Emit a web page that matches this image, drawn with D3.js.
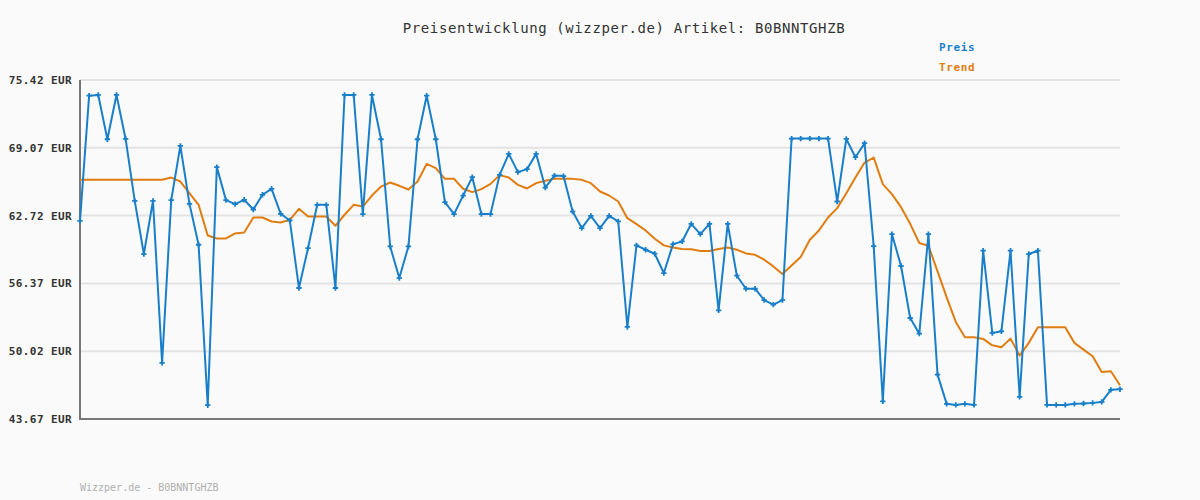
<!DOCTYPE html>
<html>
<head>
<meta charset="utf-8">
<script src="https://cdn.jsdelivr.net/npm/d3@7"></script>
<style>
  html, body { margin: 0; padding: 0; background: #fafafa; }
  svg { display: block; }
  text { font-family: "DejaVu Sans Mono", "Liberation Mono", monospace; }
</style>
</head>
<body>
<svg id="chart" width="1200" height="500"></svg>
<script>
const titleText = "Preisentwicklung (wizzper.de) Artikel: B0BNNTGHZB";
const footerText = "Wizzper.de - B0BNNTGHZB";
const seriesNames = ["Preis", "Trend"];
const tickValues = [43.67, 50.02, 56.37, 62.72, 69.07, 75.42];
const tickLabels = ["43.67 EUR", "50.02 EUR", "56.37 EUR", "62.72 EUR", "69.07 EUR", "75.42 EUR"];

const prices = [
  62.23, 73.95, 74.02, 69.87, 74.02, 69.90, 64.10, 59.12, 64.10, 48.93,
  64.17, 69.25, 63.82, 59.99, 44.96, 67.26, 64.17, 63.80, 64.20, 63.29,
  64.67, 65.23, 62.89, 62.26, 55.94, 59.68, 63.73, 63.73, 55.94, 74.02,
  74.02, 62.86, 74.02, 69.87, 59.83, 56.87, 59.83, 69.87, 73.95, 69.87,
  63.98, 62.86, 64.60, 66.32, 62.86, 62.86, 66.54, 68.50, 66.79, 67.07,
  68.50, 65.35, 66.47, 66.42, 63.10, 61.55, 62.70, 61.55, 62.70, 62.17,
  52.29, 59.93, 59.52, 59.15, 57.34, 60.05, 60.30, 61.95, 60.99, 61.95,
  53.85, 61.95, 57.09, 55.87, 55.87, 54.81, 54.38, 54.81, 69.93, 69.93,
  69.93, 69.93, 69.93, 64.04, 69.90, 68.19, 69.50, 59.86, 45.33, 60.99,
  58.00, 53.13, 51.66, 60.99, 47.83, 45.09, 44.99, 45.09, 44.99, 59.43,
  51.73, 51.88, 59.43, 45.74, 59.12, 59.43, 44.99, 44.99, 44.99, 45.09,
  45.12, 45.18, 45.27, 46.40, 46.46
];

const trend = [
  66.07, 66.07, 66.07, 66.07, 66.07, 66.07, 66.07, 66.07, 66.07, 66.07,
  66.28, 65.91, 64.82, 63.73, 60.86, 60.58, 60.58, 61.05, 61.14, 62.54,
  62.54, 62.17, 62.08, 62.33, 63.36, 62.64, 62.64, 62.64, 61.77, 62.80,
  63.73, 63.57, 64.60, 65.44, 65.82, 65.51, 65.16, 65.91, 67.56, 67.16,
  66.16, 66.16, 65.23, 64.92, 65.20, 65.69, 66.51, 66.28, 65.60, 65.26,
  65.76, 65.98, 66.16, 66.16, 66.16, 66.07, 65.76, 64.98, 64.60, 64.04,
  62.48, 61.92, 61.33, 60.55, 59.93, 59.74, 59.59, 59.56, 59.40, 59.40,
  59.59, 59.74, 59.52, 59.18, 59.05, 58.59, 57.96, 57.25, 58.05, 58.84,
  60.46, 61.33, 62.54, 63.42, 64.82, 66.28, 67.69, 68.16, 65.67, 64.73,
  63.51, 61.95, 60.15, 59.90, 57.49, 55.06, 52.76, 51.32, 51.32, 51.17,
  50.57, 50.39, 51.20, 49.61, 50.80, 52.26, 52.26, 52.26, 52.26, 50.80,
  50.17, 49.55, 48.08, 48.14, 46.83
];

const colors = { price: "#1a7fc9", trend: "#e07d10", grid: "#e3e3e3", axis: "#777777" };

const svg = d3.select("#chart");
svg.append("rect").attr("width", 1200).attr("height", 500).attr("fill", "#fafafa");

const mLeft = 80, mRight = 1120, mTop = 80, mBottom = 419;

const x = d3.scaleLinear().domain([0, prices.length - 1]).range([mLeft, mRight]);
const y = d3.scaleLinear().domain([43.67, 75.42]).range([mBottom, mTop]);

// gridlines
svg.append("g")
  .selectAll("line")
  .data(tickValues)
  .join("line")
  .attr("x1", mLeft).attr("x2", mRight)
  .attr("y1", d => y(d)).attr("y2", d => y(d))
  .attr("stroke", colors.grid).attr("stroke-width", 2);

// y axis labels
const yAxis = d3.axisLeft(y)
  .tickValues(tickValues)
  .tickSize(0)
  .tickPadding(8)
  .tickFormat((d, i) => tickLabels[i]);
const gy = svg.append("g").attr("transform", `translate(${mLeft},0)`).call(yAxis);
gy.select(".domain").remove();
gy.selectAll("text")
  .attr("font-family", "'DejaVu Sans Mono', monospace")
  .attr("font-size", 11)
  .attr("font-weight", "bold")
  .attr("letter-spacing", "0.4px")
  .attr("fill", "#333");

// axes lines
svg.append("line").attr("x1", mLeft).attr("x2", mLeft).attr("y1", mTop).attr("y2", mBottom + 1)
  .attr("stroke", colors.axis).attr("stroke-width", 2);
svg.append("line").attr("x1", mLeft - 1).attr("x2", mRight).attr("y1", mBottom).attr("y2", mBottom)
  .attr("stroke", colors.axis).attr("stroke-width", 2);

// trend line
const line = d3.line().x((d, i) => x(i)).y(d => y(d));
svg.append("path")
  .datum(trend)
  .attr("d", line)
  .attr("fill", "none")
  .attr("stroke", colors.trend)
  .attr("stroke-width", 2)
  .attr("stroke-linejoin", "round");

// price line
svg.append("path")
  .datum(prices)
  .attr("d", line)
  .attr("fill", "none")
  .attr("stroke", colors.price)
  .attr("stroke-width", 2)
  .attr("stroke-linejoin", "round");

// price markers
svg.append("g")
  .selectAll("path")
  .data(prices)
  .join("path")
  .attr("transform", (d, i) => `translate(${x(i)},${y(d)})`)
  .attr("d", d3.symbol(d3.symbolCross, 16))
  .attr("fill", colors.price);

// title
svg.append("text")
  .attr("x", 624).attr("y", 33)
  .attr("text-anchor", "middle")
  .attr("font-size", 14)
  .attr("letter-spacing", "0.6px")
  .attr("fill", "#333")
  .text(titleText);

// legend
svg.append("text")
  .attr("x", 939).attr("y", 51)
  .attr("font-size", 11).attr("font-weight", "bold")
  .attr("letter-spacing", "0.6px")
  .attr("fill", colors.price)
  .text(seriesNames[0]);
svg.append("text")
  .attr("x", 939).attr("y", 71)
  .attr("font-size", 11).attr("font-weight", "bold")
  .attr("letter-spacing", "0.6px")
  .attr("fill", colors.trend)
  .text(seriesNames[1]);

// footer
svg.append("text")
  .attr("x", 80).attr("y", 491)
  .attr("font-size", 10)
  .attr("fill", "#b0b0b0")
  .text(footerText);
</script>
</body>
</html>
